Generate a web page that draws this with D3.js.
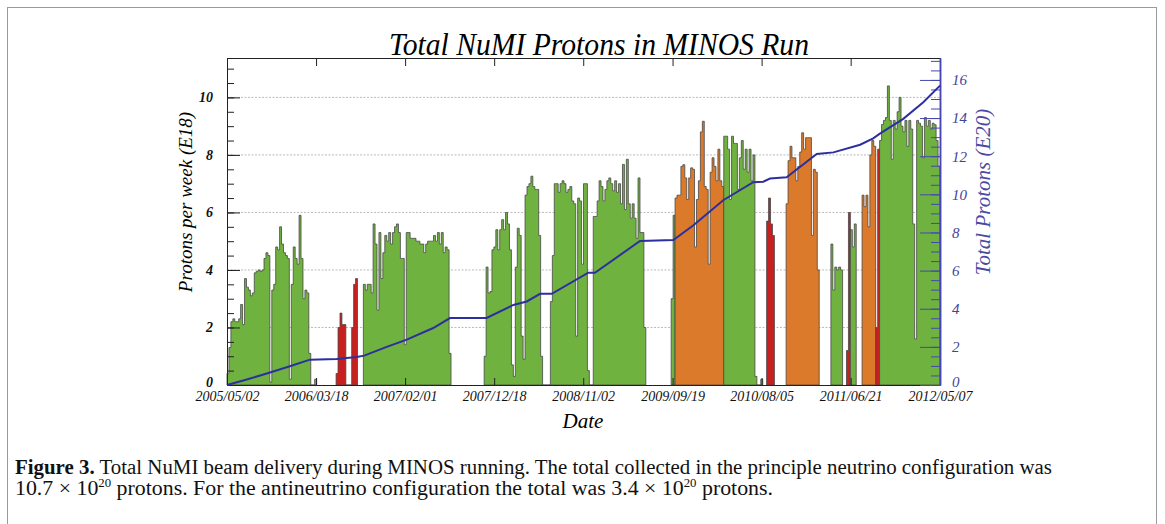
<!DOCTYPE html>
<html lang="en">
<head>
<meta charset="utf-8">
<title>Total NuMI Protons in MINOS Run</title>
<script src="https://cdn.jsdelivr.net/npm/d3@7"></script>
<style>
  body { margin: 0; background: #fff; }
  svg { display: block; }
  text { font-family: "Liberation Serif", "DejaVu Serif", serif; }
  .grid line { stroke: #a9a9a9; stroke-width: 0.8; stroke-dasharray: 2,1.5; }
  .left .tick text { font: italic bold 14px "Liberation Serif", serif; fill: #111; }
  .right .tick text { font: italic 15px "Liberation Serif", serif; fill: #43439a; }
  .bottom .tick text { font: italic 14px "Liberation Serif", serif; fill: #111; }
  .left path, .left line, .top path, .top line, .bottom path, .bottom line { stroke: #222; }
  .right path, .right line { stroke: #4646b0; }
  .right path { stroke-width: 1.5; }
</style>
</head>
<body>
<svg width="1165" height="524"></svg>
<script>
// protons per week (E18), one array per stretch of running, weekly bins
const segStart = ["2005-05-02", "2006-05-29", "2006-09-04", "2007-11-12", "2009-09-14",
  "2009-09-28", "2010-03-22", "2010-08-23", "2010-11-01", "2011-04-11",
  "2011-06-06", "2011-06-20", "2011-08-01", "2011-09-19", "2011-10-03"];
// nu = neutrino (green), anti = antineutrino (orange), other = other configs (red)
const segBeam = ["nu", "other", "nu", "nu", "nu", "anti", "nu", "other", "anti", "nu",
  "other", "nu", "anti", "other", "nu"];
const segValues = [
  [0.4, 1.3, 2.2, 2.3, 2.2, 2.2, 2.3, 2.8, 2.1, 3.7, 3.4, 3.3, 3.1, 3.2, 3.9, 3.95, 4.0, 3.95, 4.0, 4.4,
   4.6, 4.5, 0.1, 3.3, 3.5, 4.8, 4.7, 5.5, 4.9, 4.6, 4.5, 4.4, 0.2, 3.5, 4.8, 4.4, 4.2, 5.9, 4.4, 3.0,
   3.3, 3.2, 1.1, 0, 0, 0.2],
  [0.4, 2.0, 2.5, 2.1, 2.1, 0, 0, 0, 2.0, 3.5, 3.7],
  [3.5, 3.3, 3.5, 3.5, 3.2, 5.6, 4.9, 2.6, 5.3, 3.7, 4.6, 5.2, 5.0, 5.3, 4.9, 5.3, 5.5, 5.6, 5.3, 4.4,
   4.4, 1.4, 5.3, 5.3, 5.1, 5.1, 5.1, 5.0, 5.0, 4.9, 4.9, 4.6, 4.9, 5.0, 5.0, 5.0, 5.2, 5.0, 5.3, 4.9,
   5.3, 4.6, 4.8, 4.7, 1.1],
  [1.0, 4.1, 3.2, 3.25, 4.7, 4.8, 5.4, 4.7, 5.4, 5.75, 5.4, 6.0, 5.6, 4.7, 0.7, 0.3,
   4.1, 5.45, 5.2, 1.7, 0.9, 6.6, 6.9, 7.0, 7.26, 6.9, 6.8, 6.8, 5.2, 1.0, 0, 0, 0, 0,
   2.9, 4.5, 7.0, 7.0, 6.7, 7.0, 7.1, 7.0, 6.7, 6.8, 6.9, 6.4, 6.3, 1.7, 6.5, 6.4, 4.2, 7.0, 7.0, 0.5, 0, 0,
   5.86, 5.86, 6.4, 7.1, 6.9, 6.4, 6.8, 7.1, 7.2, 7.0, 6.75, 7.1, 6.7, 7.0, 6.3, 7.67, 6.1, 7.85, 6.3,
   5.8, 6.3, 5.8, 5.1, 7.2, 5.3, 5.3, 2.0],
  [3.0, 5.9],
  [6.5, 6.6, 6.6, 7.6, 7.66, 7.2, 6.45, 7.2, 7.55, 7.5, 4.8, 6.45, 7.1, 8.8, 9.17, 6.9, 6.8, 4.2, 7.4,
   7.9, 7.6, 7.1, 8.2, 7.1, 6.9],
  [8.65, 8.65, 8.2, 6.45, 8.65, 8.4, 8.4, 6.8, 7.9, 8.5, 7.5, 8.2, 7.4, 8.2, 7.1, 8.0, 0.3, 0, 0, 0.2],
  [5.7, 6.5, 5.6, 5.2],
  [6.3, 7.8, 8.3, 7.9, 7.9, 7.1, 7.6, 8.1, 8.77, 8.2, 8.6, 8.6, 8.6, 5.2, 7.5, 7.4, 4.0],
  [4.9, 3.3, 4.1, 4.0, 4.1, 4.0],
  [1.2, 6.0],
  [5.4, 4.8, 5.6],
  [6.6, 6.2, 6.6, 5.5, 8.0, 8.5, 8.3],
  [2.0, 8.2],
  [8.5, 9.06, 9.2, 9.3, 10.4, 9.2, 7.85, 9.2, 8.9, 9.5, 10.0, 9.0, 8.8, 9.2, 8.3, 9.2, 8.9, 5.6, 1.6,
   9.2, 9.1, 9.0, 7.9, 9.3, 9.0, 9.2, 8.9, 9.1, 9.05, 8.5, 7.6]
];

// total protons (E20), read at the bends of the blue line
const totalDates = ["2005-05-02", "2005-07-12", "2005-09-22", "2005-12-14", "2006-02-24", "2006-05-31",
  "2006-08-11", "2006-09-07", "2006-11-27", "2007-02-07", "2007-05-13", "2007-07-12", "2007-11-21",
  "2008-02-25", "2008-04-13", "2008-05-31", "2008-07-12", "2008-11-20", "2008-12-14", "2009-05-25",
  "2009-09-22", "2009-12-03", "2010-03-20", "2010-07-06", "2010-08-11", "2010-09-04", "2010-11-03",
  "2011-02-19", "2011-04-20", "2011-07-25", "2011-09-10", "2011-10-04", "2011-12-27", "2012-03-08",
  "2012-05-07"];
const totalE20 = [0, 0.29, 0.6, 0.98, 1.33, 1.37, 1.47, 1.54, 2.0, 2.38, 2.99, 3.51, 3.52, 4.2, 4.38,
  4.78, 4.78, 5.89, 5.89, 7.55, 7.6, 8.38, 9.69, 10.64, 10.66, 10.83, 10.9, 12.12, 12.2, 12.6, 12.94,
  13.18, 13.96, 14.83, 15.7];

const dateTicks = ["2005/05/02", "2006/03/18", "2007/02/01", "2007/12/18", "2008/11/02",
  "2009/09/19", "2010/08/05", "2011/06/21", "2012/05/07"];
const leftTicks = [0, 2, 4, 6, 8, 10];
const rightTicks = [0, 2, 4, 6, 8, 10, 12, 14, 16];

const beamColor = { nu: "#70b23f", anti: "#dc7a2c", other: "#c81f1f" };

const svg = d3.select("svg");
const m = { left: 227, right: 940, top: 58, bottom: 385 };

// outer figure frame
svg.append("rect")
  .attr("x", 7.5).attr("y", 7.5).attr("width", 1149).attr("height", 540)
  .attr("fill", "none").attr("stroke", "#9b9b9b");

const parseD = d3.timeParse("%Y-%m-%d");
const parseT = d3.timeParse("%Y/%m/%d");

const x = d3.scaleTime()
  .domain([parseD("2005-05-02"), parseD("2012-05-07")])
  .range([m.left, m.right]);
const y = d3.scaleLinear().domain([0, 11.37]).range([m.bottom, m.top]);
const y2 = d3.scaleLinear().domain([0, 17.15]).range([m.bottom, m.top]);

// grid
svg.append("g").attr("class", "grid")
  .selectAll("line").data(leftTicks.slice(1)).join("line")
  .attr("x1", m.left).attr("x2", m.right)
  .attr("y1", d => y(d)).attr("y2", d => y(d));

// one step shape per stretch, weekly bins
const steps = segStart.map((s, i) => {
  const t0 = parseD(s);
  const pts = [[x(t0), y(0)]];
  segValues[i].forEach((v, j) => {
    pts.push([x(d3.timeDay.offset(t0, 7 * j)), y(v)]);
    pts.push([x(d3.timeDay.offset(t0, 7 * j + 7)), y(v)]);
  });
  pts.push([x(d3.timeDay.offset(t0, 7 * segValues[i].length)), y(0)]);
  return { beam: segBeam[i], pts: pts };
});

svg.append("g").selectAll("path").data(steps).join("path")
  .attr("d", d => d3.line()(d.pts) + "Z")
  .attr("fill", d => beamColor[d.beam])
  .attr("stroke", "#474747").attr("stroke-width", 0.8).attr("stroke-linejoin", "miter");

// axes
const tickDates = dateTicks.map(parseT);
svg.append("g").attr("class", "bottom")
  .attr("transform", `translate(0,${m.bottom})`)
  .call(d3.axisBottom(x).tickValues(tickDates).tickFormat(d3.timeFormat("%Y/%m/%d"))
    .tickSize(-7).tickSizeOuter(0).tickPadding(6));
svg.append("g").attr("class", "top")
  .attr("transform", `translate(0,${m.top})`)
  .call(d3.axisTop(x).tickValues(tickDates).tickFormat("").tickSize(-8).tickSizeOuter(0));

const half = d3.range(0.5, 11.01, 0.5);
svg.append("g").attr("class", "left")
  .attr("transform", `translate(${m.left},0)`)
  .call(d3.axisLeft(y).tickValues(half).tickFormat("").tickSize(-7).tickSizeOuter(0));
svg.append("g").attr("class", "left")
  .attr("transform", `translate(${m.left},0)`)
  .call(d3.axisLeft(y).tickValues(leftTicks).tickSize(-13).tickSizeOuter(0).tickPadding(14));

const half2 = d3.range(0.5, 17.01, 0.5);
svg.append("g").attr("class", "right")
  .attr("transform", `translate(${m.right},0)`)
  .call(d3.axisRight(y2).tickValues(half2).tickFormat("").tickSize(-9).tickSizeOuter(0));
svg.append("g").attr("class", "right")
  .attr("transform", `translate(${m.right},0)`)
  .call(d3.axisRight(y2).tickValues(rightTicks).tickSize(-20).tickSizeOuter(0).tickPadding(12));

svg.selectAll(".left .tick").filter(d => d === 0).select("text").attr("dy", "0.1em");
svg.selectAll(".right .tick").filter(d => d === 0).select("text").attr("dy", "0.1em");

// total line
svg.append("path")
  .datum(totalDates.map((d, i) => [parseD(d), totalE20[i]]))
  .attr("d", d3.line().x(d => x(d[0])).y(d => y2(d[1])))
  .attr("fill", "none").attr("stroke", "#2d2f9e").attr("stroke-width", 2);

// titles
svg.append("text").attr("x", 599).attr("y", 55).attr("text-anchor", "middle")
  .attr("font-size", 32).attr("font-style", "italic")
  .attr("textLength", 420).attr("lengthAdjust", "spacingAndGlyphs")
  .text("Total NuMI Protons in MINOS Run");
svg.append("text").attr("x", 583).attr("y", 428).attr("text-anchor", "middle")
  .attr("font-size", 21).attr("font-style", "italic").text("Date");
svg.append("text").attr("transform", "translate(192,202) rotate(-90)").attr("text-anchor", "middle")
  .attr("font-size", 19).attr("font-style", "italic").text("Protons per week (E18)");
svg.append("text").attr("transform", "translate(990,192) rotate(-90)").attr("text-anchor", "middle")
  .attr("font-size", 21).attr("font-style", "italic").attr("fill", "#4a4aa2")
  .text("Total Protons (E20)");

// caption
const cap1 = svg.append("text").attr("x", 15).attr("y", 474).attr("font-size", 20.5)
  .attr("textLength", 1037).attr("lengthAdjust", "spacingAndGlyphs").attr("fill", "#111");
cap1.append("tspan").attr("font-weight", "bold").text("Figure 3.");
cap1.append("tspan").text(" Total NuMI beam delivery during MINOS running. The total collected in the principle neutrino configuration was");

const cap2 = svg.append("text").attr("x", 15).attr("y", 495).attr("font-size", 20.5)
  .attr("textLength", 758).attr("lengthAdjust", "spacingAndGlyphs").attr("fill", "#111");
cap2.append("tspan").text("10.7 \u00d7 10");
cap2.append("tspan").attr("font-size", 12).attr("dy", -8).text("20");
cap2.append("tspan").attr("dy", 8).text(" protons. For the antineutrino configuration the total was 3.4 \u00d7 10");
cap2.append("tspan").attr("font-size", 12).attr("dy", -8).text("20");
cap2.append("tspan").attr("dy", 8).text(" protons.");
</script>
</body>
</html>
